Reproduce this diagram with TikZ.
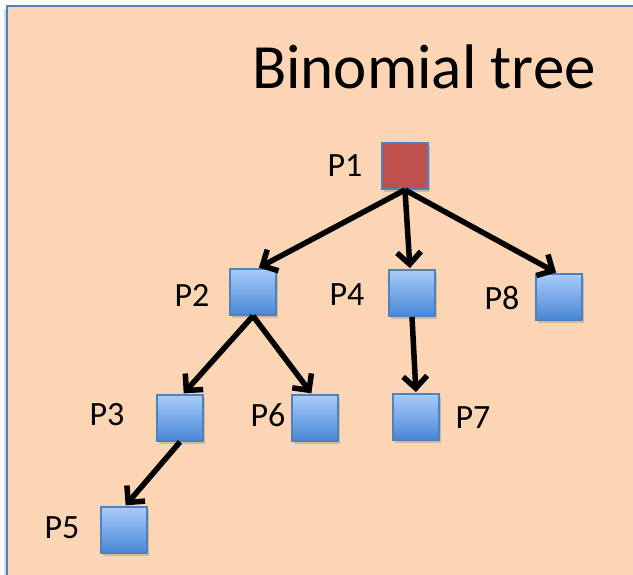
\documentclass[tikz,border=0pt]{standalone}
\usepackage{fontspec}
\setmainfont{Carlito}
\usetikzlibrary{arrows.meta,shadows}
\definecolor{peach}{HTML}{FCD5B5}
\definecolor{edgeblue}{HTML}{4F81BD}
\definecolor{boxtop}{HTML}{A8CBFA}
\definecolor{boxbot}{HTML}{4A87D6}
\definecolor{rootred}{HTML}{C0504D}
\tikzset{
  pbox/.style={draw=edgeblue, line width=1.8pt, minimum size=46pt, inner sep=0pt,
    top color=boxtop, bottom color=boxbot,
    drop shadow={shadow xshift=1.5pt, shadow yshift=-2.5pt, opacity=0.35}},
  rootbox/.style={pbox, top color=rootred, bottom color=rootred, fill=rootred},
  plabel/.style={font=\fontsize{34}{36}\selectfont, inner sep=0pt, anchor=center},
  edge/.style={line width=5.5pt, black, -{Straight Barb[length=12pt, width=24pt, line width=5.5pt]}, shorten >=1pt}
}
\begin{document}
\begin{tikzpicture}[x=1pt,y=-1pt]
\useasboundingbox (0,0) rectangle (633,574);
\fill[black!25, opacity=0.6] (4,9) rectangle (640,580);
\draw[edgeblue, line width=2pt, fill=peach] (7,6) rectangle (645,590);
\node[font=\fontsize{63}{68}\selectfont, inner sep=0pt, anchor=base east] (title) at (596,88) {Binomial tree};

\node[rootbox] (p1) at (405,166) {};
\node[pbox] (p2) at (253,292) {};
\node[pbox] (p4) at (412,293) {};
\node[pbox] (p8) at (559,297) {};
\node[pbox] (p3) at (180,418) {};
\node[pbox] (p6) at (315,418) {};
\node[pbox] (p7) at (416,417) {};
\node[pbox] (p5) at (124,530) {};

\node[plabel] (l1) at (345,166) {P1};
\node[plabel] (l2) at (192,295) {P2};
\node[plabel] (l4) at (347,295) {P4};
\node[plabel] (l8) at (502,298) {P8};
\node[plabel] (l3) at (107,415) {P3};
\node[plabel] (l6) at (268,415) {P6};
\node[plabel] (l7) at (473,418) {P7};
\node[plabel] (l5) at (62,528) {P5};

\draw[edge] (p1.south) -- ([xshift=5pt]p2.north);
\draw[edge] (p1.south) -- ([xshift=-2pt]p4.north);
\draw[edge] (p1.south) -- ([xshift=-2pt]p8.north);
\draw[edge] (p2.south) -- ([xshift=3pt]p3.north);
\draw[edge] (p2.south) -- ([xshift=-3pt]p6.north);
\draw[edge] (p4.south) -- (p7.north);
\draw[edge] (p3.south) -- ([xshift=1pt]p5.north);
\end{tikzpicture}
\end{document}
